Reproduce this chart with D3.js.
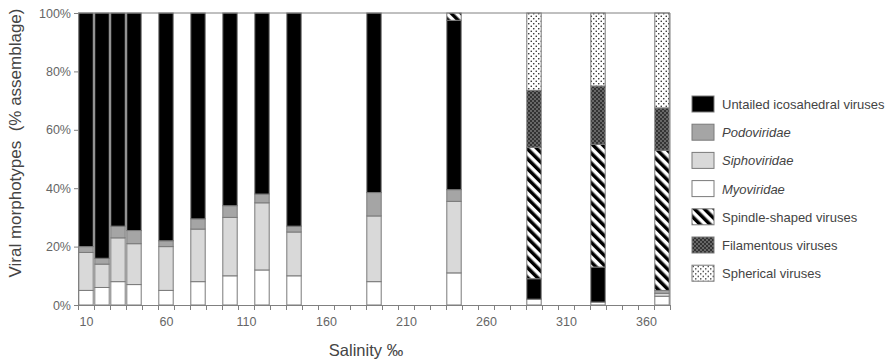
<!DOCTYPE html>
<html>
<head>
<meta charset="utf-8">
<script src="https://cdn.jsdelivr.net/npm/d3@7"></script>
<style>
body { margin: 0; background: #fff; }
text { font-family: "Liberation Sans", Arial, sans-serif; fill: #444; }
</style>
</head>
<body>
<svg id="chart" width="888" height="363"></svg>
<script>
// salinity of each sampled pond (permille)
var salinity = [10, 20, 30, 40, 60, 80, 100, 120, 140, 190, 240, 290, 330, 370];

// % of assemblage, stacked bottom -> top in this order
var myoviridae  = [5, 6, 8, 7, 5, 8, 10, 12, 10, 8, 11, 2, 1, 3];
var siphoviridae = [13, 8, 15, 14, 15, 18, 20, 23, 15, 22.5, 24.5, 0, 0, 1];
var podoviridae = [2, 2, 4, 4.5, 2, 3.5, 4, 3, 2, 8, 4, 0, 0, 1];
var untailed    = [80, 84, 73, 74.5, 78, 70.5, 66, 62, 73, 61.5, 58, 7, 12, 0];
var spindle     = [0, 0, 0, 0, 0, 0, 0, 0, 0, 0, 2.5, 45, 42, 48];
var filamentous = [0, 0, 0, 0, 0, 0, 0, 0, 0, 0, 0, 19.5, 20, 14.5];
var spherical   = [0, 0, 0, 0, 0, 0, 0, 0, 0, 0, 0, 26.5, 25, 32.5];

var yTicks = [0, 20, 40, 60, 80, 100];
var xLabels = [10, 60, 110, 160, 210, 260, 310, 360];

var series = [
	{key: 'myo', name: 'Myoviridae', values: myoviridae, fill: '#ffffff', italic: true},
	{key: 'sipho', name: 'Siphoviridae', values: siphoviridae, fill: '#d9d9d9', italic: true},
	{key: 'podo', name: 'Podoviridae', values: podoviridae, fill: '#a5a5a5', italic: true},
	{key: 'untailed', name: 'Untailed icosahedral viruses', values: untailed, fill: '#000000'},
	{key: 'spindle', name: 'Spindle-shaped viruses', values: spindle, fill: 'url(#pSpindle)'},
	{key: 'filam', name: 'Filamentous viruses', values: filamentous, fill: 'url(#pFilam)'},
	{key: 'spher', name: 'Spherical viruses', values: spherical, fill: 'url(#pSpher)'}
];
var legendOrder = ['untailed', 'podo', 'sipho', 'myo', 'spindle', 'filam', 'spher'];

var rows = salinity.map(function(s, i){
	var r = {sal: s};
	series.forEach(function(se){ r[se.key] = se.values[i]; });
	return r;
});

var svg = d3.select('#chart');
var padding = {top: 13, bottom: 58, left: 78, right: 218};
var width = 888, height = 363;

// patterns
var defs = svg.append('defs');
var ps = defs.append('pattern').attr('id', 'pSpindle')
	.attr('patternUnits', 'userSpaceOnUse').attr('width', 7).attr('height', 7)
	.attr('patternTransform', 'rotate(-45)');
ps.append('rect').attr('width', 7).attr('height', 7).attr('fill', '#fff');
ps.append('rect').attr('width', 3.5).attr('height', 7).attr('fill', '#000');

var pf = defs.append('pattern').attr('id', 'pFilam')
	.attr('patternUnits', 'userSpaceOnUse').attr('width', 4).attr('height', 4);
pf.append('rect').attr('width', 4).attr('height', 4).attr('fill', '#333');
pf.append('circle').attr('cx', 1).attr('cy', 1).attr('r', 0.8).attr('fill', '#aaa');
pf.append('circle').attr('cx', 3).attr('cy', 3).attr('r', 0.8).attr('fill', '#aaa');

var pp = defs.append('pattern').attr('id', 'pSpher')
	.attr('patternUnits', 'userSpaceOnUse').attr('width', 5).attr('height', 5);
pp.append('rect').attr('width', 5).attr('height', 5).attr('fill', '#fff');
pp.append('circle').attr('cx', 1.25).attr('cy', 1.25).attr('r', 0.8).attr('fill', '#222');
pp.append('circle').attr('cx', 3.75).attr('cy', 3.75).attr('r', 0.8).attr('fill', '#222');

var xScale = d3.scaleLinear()
	.domain([5, 375])
	.range([padding.left, width - padding.right]);

var yScale = d3.scaleLinear()
	.domain([0, 100])
	.range([height - padding.bottom, padding.top]);

var stack = d3.stack().keys(series.map(function(s){ return s.key; }));
var stacked = stack(rows);

var fills = {};
series.forEach(function(s){ fills[s.key] = s.fill; });

svg.append('g').selectAll('g')
	.data(stacked)
	.enter()
	.append('g')
	.attr('fill', function(d){ return fills[d.key]; })
	.selectAll('rect')
	.data(function(d){ return d.filter(function(p){ return p[1] - p[0] > 0; }); })
	.enter()
	.append('rect')
	.attr('x', function(d){ return xScale(d.data.sal - 5) + 0.8; })
	.attr('width', function(d){ return xScale(d.data.sal + 5) - xScale(d.data.sal - 5) - 1.6; })
	.attr('y', function(d){ return yScale(d[1]); })
	.attr('height', function(d){ return yScale(d[0]) - yScale(d[1]); })
	.attr('stroke', '#7a7a7a')
	.attr('stroke-width', 1);

// plot frame (top + right)
svg.append('path')
	.attr('d', 'M' + xScale(5) + ',' + yScale(100) + 'H' + xScale(375) + 'V' + yScale(0))
	.attr('fill', 'none').attr('stroke', '#808080').attr('stroke-width', 1);

// x-axis: minor ticks at category edges, labels every 50
var xAxis = svg.append('g')
	.attr('class', 'x-axis')
	.attr('transform', 'translate(0,' + yScale(0) + ')')
	.call(d3.axisBottom(xScale).tickValues(d3.range(5, 376, 10)).tickSize(5).tickFormat('').tickSizeOuter(0));
xAxis.select('.domain').attr('stroke', '#808080');
xAxis.selectAll('line').attr('stroke', '#808080');

var xLab = svg.append('g')
	.attr('transform', 'translate(0,' + yScale(0) + ')')
	.call(d3.axisBottom(xScale).tickValues(xLabels).tickSize(0).tickPadding(12));
xLab.select('.domain').remove();
xLab.selectAll('text').style('font-size', '12.5px').style('fill', '#666').style('font-family', '"Liberation Sans", Arial, sans-serif');

// y-axis
var yAxis = svg.append('g')
	.attr('class', 'y-axis')
	.attr('transform', 'translate(' + padding.left + ',0)')
	.call(d3.axisLeft(yScale).tickValues(yTicks).tickSize(4).tickSizeOuter(0).tickFormat(function(d){ return d + '%'; }));
yAxis.select('.domain').attr('stroke', '#808080');
yAxis.selectAll('line').attr('stroke', '#808080');
yAxis.selectAll('text').style('font-size', '12.5px').style('fill', '#666').style('font-family', '"Liberation Sans", Arial, sans-serif');

// axis titles
svg.append('text')
	.attr('text-anchor', 'middle')
	.attr('x', 366)
	.attr('y', 356)
	.style('font-size', '16.5px')
	.text('Salinity \u2030');

svg.append('text')
	.attr('text-anchor', 'middle')
	.attr('transform', 'translate(21,143) rotate(-90)')
	.style('font-size', '17px')
	.style('white-space', 'pre')
	.text('Viral morphotypes  (% assemblage)');

// legend
var byKey = {};
series.forEach(function(s){ byKey[s.key] = s; });
var legend = svg.append('g').attr('transform', 'translate(692,96)');
var item = legend.selectAll('g')
	.data(legendOrder.map(function(k){ return byKey[k]; }))
	.enter()
	.append('g')
	.attr('transform', function(d, i){ return 'translate(0,' + (i * 28.2) + ')'; });
item.append('rect')
	.attr('width', 22).attr('height', 16)
	.attr('fill', function(d){ return d.fill; })
	.attr('stroke', '#7a7a7a');
item.append('text')
	.attr('x', 30).attr('y', 13)
	.style('font-size', '13px')
	.style('font-style', function(d){ return d.italic ? 'italic' : 'normal'; })
	.text(function(d){ return d.name; });
</script>
</body>
</html>
